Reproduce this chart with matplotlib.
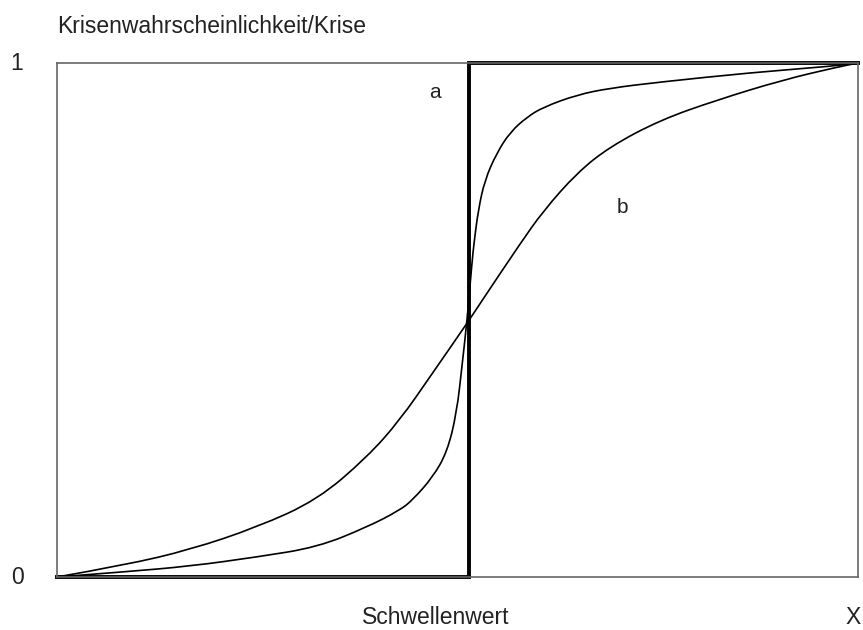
import matplotlib
matplotlib.use("Agg")
import matplotlib.pyplot as plt
from matplotlib.path import Path
from matplotlib.patches import PathPatch

plt.rcParams['font.family'] = ['Liberation Sans', 'DejaVu Sans']

# threshold (Schwellenwert) as fraction of the x range
threshold = 0.514
step_x = [0.0, threshold, threshold, 1.0]
step_y = [0.0, 0.0, 1.0, 1.0]

# curve a (steep)
a_x = [0.000, 0.084, 0.166, 0.250, 0.325, 0.387, 0.428, 0.444, 0.469, 0.487,
       0.499, 0.506, 0.512, 0.518, 0.521, 0.526, 0.534, 0.549, 0.566, 0.587,
       0.607, 0.649, 0.690, 0.753, 0.865, 0.969, 1.000]
a_y = [0.000, 0.010, 0.021, 0.039, 0.058, 0.097, 0.130, 0.150, 0.194, 0.243,
       0.319, 0.416, 0.500, 0.611, 0.655, 0.714, 0.772, 0.825, 0.866, 0.895,
       0.914, 0.938, 0.951, 0.963, 0.981, 0.994, 1.000]

# curve b (gentle)
b_x = [0.000, 0.084, 0.166, 0.250, 0.325, 0.387, 0.428, 0.469, 0.513, 0.532,
       0.578, 0.607, 0.649, 0.690, 0.753, 0.824, 0.906, 0.974, 1.000]
b_y = [0.000, 0.023, 0.053, 0.097, 0.150, 0.233, 0.305, 0.397, 0.496, 0.541,
       0.648, 0.712, 0.786, 0.837, 0.889, 0.928, 0.967, 0.992, 1.000]


def smooth_path(xs, ys):
    pts = list(zip(xs, ys))
    verts = [pts[0]]
    codes = [Path.MOVETO]
    for i in range(1, len(pts) - 1):
        mid = ((pts[i][0] + pts[i + 1][0]) / 2, (pts[i][1] + pts[i + 1][1]) / 2)
        verts += [pts[i], mid]
        codes += [Path.CURVE3, Path.CURVE3]
    verts.append(pts[-1])
    codes.append(Path.LINETO)
    return Path(verts, codes)


W, H = 863, 630
fig = plt.figure(figsize=(W / 100, H / 100), dpi=100)
ax = fig.add_axes([57 / W, 1 - 577 / H, (858 - 57) / W, (577 - 63) / H])
ax.set_xlim(0, 1)
ax.set_ylim(0, 1)
ax.set_xticks([])
ax.set_yticks([])
for s in ax.spines.values():
    s.set_color('#666666')
    s.set_linewidth(1.2)

for xs, ys in ((b_x, b_y), (a_x, a_y)):
    ax.add_patch(PathPatch(smooth_path(xs, ys), fill=False, edgecolor='black',
                           lw=1.2, clip_on=False, capstyle='round'))
ax.plot(step_x, step_y, color='black', lw=2.8, clip_on=False, solid_joinstyle='miter')

def px(x, y, s, **kw):
    fig.text(x / W, 1 - y / H, s, **kw)

tc = '#222222'
px(57, 33, 'Krisenwahrscheinlichkeit/Krise', ha='left', va='baseline', fontsize=16.5, color=tc)
px(17, 64, '1', ha='center', va='center', fontsize=16.5, color=tc)
px(17, 578, '0', ha='center', va='center', fontsize=16.5, color=tc)
px(436, 624, 'Schwellenwert', ha='center', va='baseline', fontsize=16.5, color=tc)
px(853, 624, 'X', ha='center', va='baseline', fontsize=16.5, color=tc)
px(435, 98, 'a', ha='center', va='baseline', fontsize=15, color=tc)
px(622, 213, 'b', ha='center', va='baseline', fontsize=15, color=tc)

fig.savefig('out.png', dpi=100, facecolor='white')
